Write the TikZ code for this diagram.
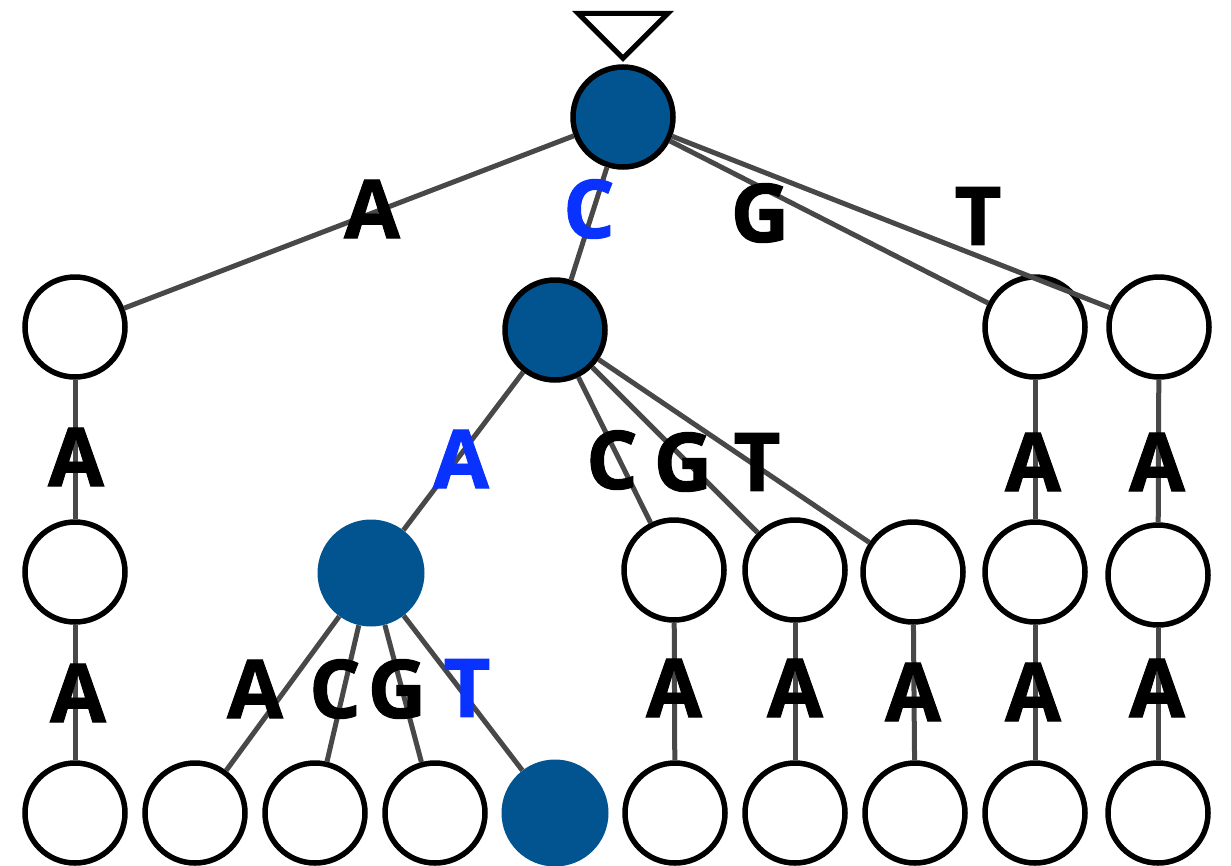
\documentclass[tikz,border=0pt]{standalone}
\usepackage{fontspec}
\setmainfont{Open Sans}[BoldFeatures={FakeBold=1.2}]
\usetikzlibrary{calc}

\definecolor{trieblue}{RGB}{2,84,145}
\definecolor{hitblue}{RGB}{10,50,255}
\definecolor{linkgray}{RGB}{72,72,72}

\begin{document}
\begin{tikzpicture}[x=1pt,y=-1pt,
  st/.style={circle,draw=black,line width=5.5pt,minimum size=100pt,inner sep=0pt,fill=white},
  visited/.style={st,fill=trieblue},
  found/.style={circle,fill=trieblue,minimum size=107pt,inner sep=0pt},
  link/.style={draw=linkgray,line width=5pt},
  ch/.style={font=\fontsize{81}{81}\selectfont\bfseries,inner sep=0pt},
  hit/.style={ch,text=hitblue}]
\useasboundingbox (0,0) rectangle (1231,865);
% states, top to bottom
\node[visited] (root) at (623,117) {};
\node[st] (a) at (75,327) {};
\node[visited] (c) at (555,330) {};
\node[st] (g) at (1035,327) {};
\node[st] (t) at (1159,327) {};
\node[st] (aa) at (75,572) {};
\node[found] (ca) at (371,573) {};
\node[st] (cc) at (674,570) {};
\node[st] (cg) at (795,570) {};
\node[st] (ct) at (913,572) {};
\node[st] (ga) at (1035,572) {};
\node[st] (ta) at (1158,575) {};
\node[st] (aaa) at (75,813) {};
\node[st] (caa) at (195,813) {};
\node[st] (cac) at (315,813) {};
\node[st] (cag) at (435,813) {};
\node[found] (cat) at (555,813) {};
\node[st] (cca) at (675,813) {};
\node[st] (cga) at (795,813) {};
\node[st] (cta) at (915,813) {};
\node[st] (gaa) at (1035,813) {};
\node[st] (taa) at (1158,813) {};
% start marker
\coordinate (tip) at ($(root.north)+(0,-6)$);
\draw[line width=5pt,fill=white] (tip) -- ++(-45,-45) -- ++(90,0) -- cycle;
% transitions
\draw[link] (root) -- (a);
\draw[link] (root) -- (c);
\draw[link] (root) -- (g);
\draw[link] (root) -- (t);
\draw[link] (a) -- (aa);
\draw[link] (c) -- (ca);
\draw[link] (c) -- (cc);
\draw[link] (c) -- (cg);
\draw[link] (c) -- (ct);
\draw[link] (g) -- (ga);
\draw[link] (t) -- (ta);
\draw[link] (aa) -- (aaa);
\draw[link] (ca) -- (caa);
\draw[link] (ca) -- (cac);
\draw[link] (ca) -- (cag);
\draw[link] (ca) -- (cat);
\draw[link] (cc) -- (cca);
\draw[link] (cg) -- (cga);
\draw[link] (ct) -- (cta);
\draw[link] (ga) -- (gaa);
\draw[link] (ta) -- (taa);
% symbols on the transitions
\node[ch] (l-a) at (372,209) {A};
\node[hit] (l-c) at (589,209) {C};
\node[ch] (l-g) at (760,213) {G};
\node[ch] (l-t) at (978,216) {T};
\node[ch] (l-aa) at (76,457) {A};
\node[hit] (l-ca) at (461,459) {A};
\node[ch] (l-cc) at (612,460) {C};
\node[ch] (l-cg) at (683,462) {G};
\node[ch] (l-ct) at (757,462) {T};
\node[ch] (l-ga) at (1033,462) {A};
\node[ch] (l-ta) at (1157,462) {A};
\node[ch] (l-aaa) at (78,693) {A};
\node[ch] (l-caa) at (255,689) {A};
\node[ch] (l-cac) at (335,689) {C};
\node[ch] (l-cag) at (397,689) {G};
\node[hit] (l-cat) at (467,688) {T};
\node[ch] (l-cca) at (674,688) {A};
\node[ch] (l-cga) at (795,688) {A};
\node[ch] (l-cta) at (913,692) {A};
\node[ch] (l-gaa) at (1033,692) {A};
\node[ch] (l-taa) at (1157,688) {A};
\end{tikzpicture}
\end{document}
